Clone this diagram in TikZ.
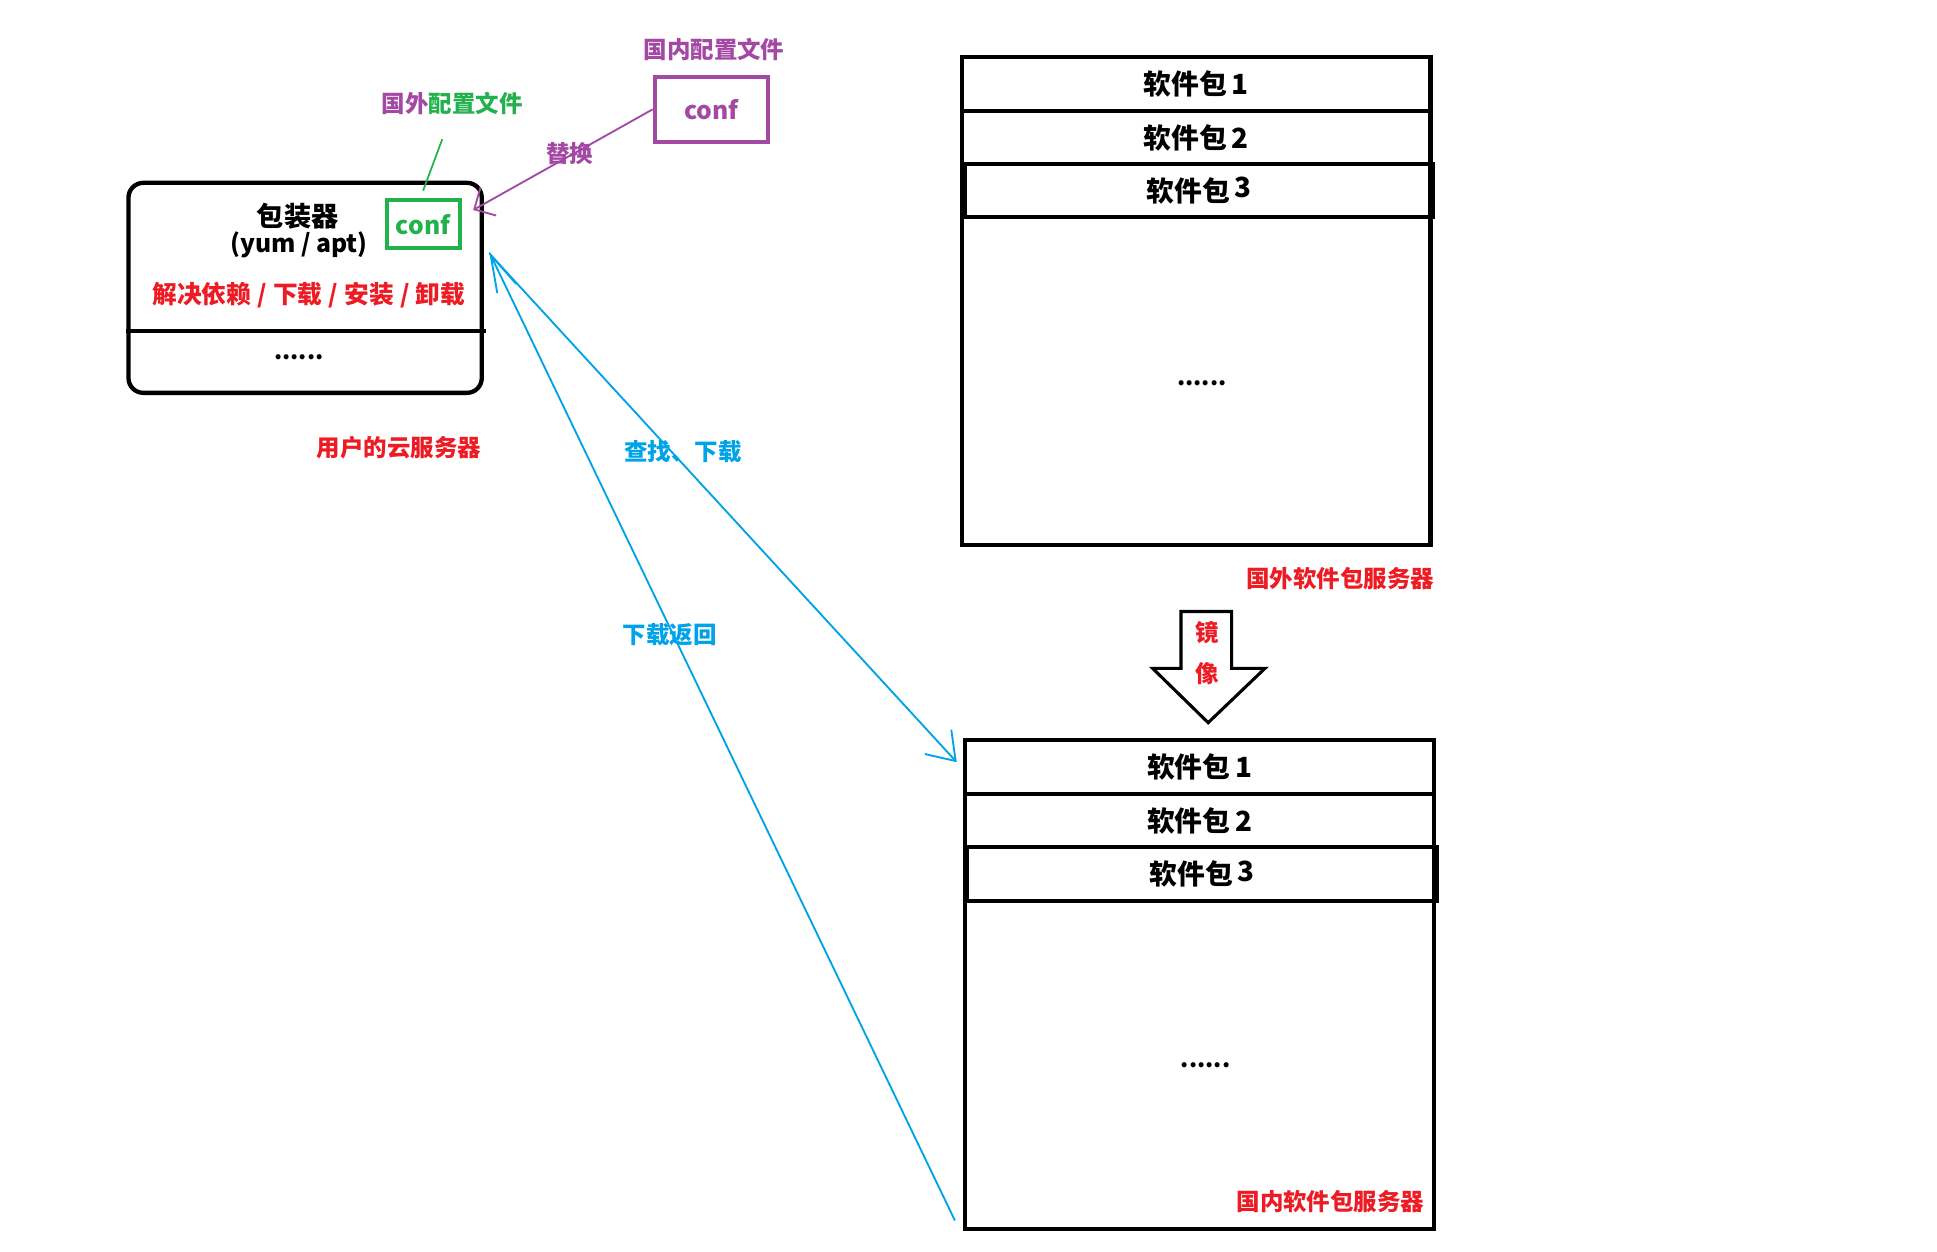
\documentclass[tikz,border=0pt]{standalone}
\usepackage{fontspec}
\setmainfont{Noto Sans CJK SC}
\usepackage{tikz}
\usetikzlibrary{arrows.meta}
\definecolor{pred}{RGB}{237,28,36}
\definecolor{ppurple}{RGB}{163,73,164}
\definecolor{pgreen}{RGB}{34,177,76}
\definecolor{pblue}{RGB}{0,162,232}

\begin{document}
\begin{tikzpicture}[x=1pt,y=-1pt,
  txt/.style={font=\bfseries\fontsize{19}{21}\selectfont},
  big/.style={font=\bfseries\fontsize{22}{24}\selectfont},
  pkg/.style={draw,line width=3.3pt,minimum width=379pt,inner sep=0pt,font=\bfseries\fontsize{22.5}{24}\selectfont},
  srv/.style={draw,line width=3.5pt,minimum width=379pt,minimum height=395pt,inner sep=0pt},
  blueline/.style={pblue,line width=1.5pt}]
  \useasboundingbox (0,0) rectangle (1568,1013);

  % user cloud server
  \node[draw,line width=3.5pt,rounded corners=12pt,minimum width=286pt,minimum height=170pt,inner sep=0pt] (user) at (247,233) {};
  \draw[line width=3.5pt] (user.west |- 0,268) -- ([xshift=2pt]user.east |- 0,268);
  \node[big] (pkgmgr) at (241,175) {包装器};
  \node[txt,font=\bfseries\fontsize{20}{22}\selectfont] (yumapt) at (242,198) {(yum / apt)};
  \node[txt,text=pred,font=\bfseries\fontsize{20}{22}\selectfont] (jobs) at (250,239) {解决依赖\hspace{5pt}/\hspace{5pt}下载\hspace{5pt}/\hspace{5pt}安装\hspace{5pt}/\hspace{5pt}卸载};
  \node[txt] (udots) at (242,289) {......};
  \node[txt] [text=pred] (userlbl) at (323,362) {用户的云服务器};
  \node[draw=pgreen,line width=3.3pt,minimum width=59pt,minimum height=39pt,inner sep=0pt,text=pgreen,font=\bfseries\fontsize{20}{22}\selectfont] (gconf) at (342.5,181.5) {conf};
  \node[txt] (forconf) at (366,84) {\textcolor{ppurple}{国外}\textcolor{pgreen}{配置文件}};
  \draw[pgreen,line width=1.4pt] ([xshift=-8pt,yshift=-16pt]forconf.south) -- ([yshift=6pt]gconf.north);

  % replacement config
  \node[draw=ppurple,line width=3.3pt,minimum width=92pt,minimum height=53pt,inner sep=0pt,text=ppurple,font=\bfseries\fontsize{20}{22}\selectfont] (pconf) at (576,88.5) {conf};
  \node[txt,text=ppurple] (domconf) at (578,40) {国内配置文件};
  \coordinate (rep) at (383,170);
  \draw[ppurple,line width=1.5pt,-{Straight Barb[length=13pt,width=26pt]}] (pconf.west) -- (rep);
  \node[txt,text=ppurple] (replbl) at (461,124) {替换};

  % foreign mirror
  \node[srv] (frgn) at (968.5,243.5) {};
  \node[pkg,minimum height=44pt] (f1) at (968.5,68) {软件包\,1};
  \node[pkg,minimum height=43pt] (f2) at (968.5,111.5) {软件包\,2};
  \node[pkg,minimum height=43pt] (f3) at (970.5,154.5) {软件包\,\raisebox{3pt}{3}};
  \node[txt] (fdots) at (973,310) {......};
  \node[txt,text=pred] (frgnlbl) at (1085,468) {国外软件包服务器};

  % mirror arrow
  \draw[line width=2.5pt,line join=miter] (956,495) -- (997,495) -- (997,541) -- (1024,541) -- (978,585) -- (933,541) -- (956,541) -- cycle;
  \node[txt,text=pred] (mir1) at (977,512) {镜};
  \node[txt,text=pred] (mir2) at (977,545) {像};

  % domestic mirror
  \node[srv,minimum width=380pt,minimum height=396pt] (dom) at (971,797) {};
  \node[pkg,minimum width=380pt,minimum height=44pt] (d1) at (971,621) {软件包\,1};
  \node[pkg,minimum width=380pt,minimum height=43pt] (d2) at (971,664.5) {软件包\,2};
  \node[pkg,minimum width=380pt,minimum height=43pt] (d3) at (973,707.5) {软件包\,\raisebox{3pt}{3}};
  \node[txt] (ddots) at (976,862) {......};
  \node[txt,text=pred] (domlbl) at (1077,973) {国内软件包服务器};

  % search / download
  \coordinate (ask) at (396,205);
  \coordinate (askend) at (774.5,617);
  \coordinate (back) at (773,988);
  \coordinate (backend) at (396,204);
  \draw[blueline,-{Straight Barb[length=21pt,width=29pt]}] (ask) -- (askend);
  \draw[blueline,-{Straight Barb[length=30pt,width=17pt]}] (back) -- (backend);
  \node[txt,text=pblue] (asklbl) at (553,366) {查找、下载};
  \node[txt,text=pblue] (backlbl) at (542,514) {下载返回};
\end{tikzpicture}
\end{document}
